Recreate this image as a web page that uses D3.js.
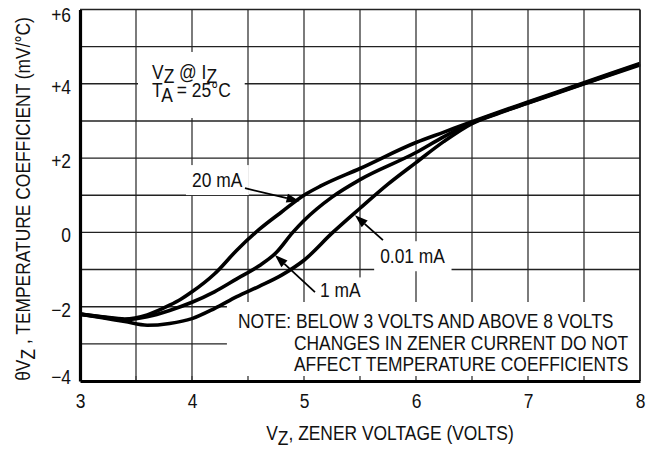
<!DOCTYPE html>
<html>
<head>
<meta charset="utf-8">
<script src="https://cdn.jsdelivr.net/npm/d3@7"></script>
<style>
  body { margin: 0; background: #fff; }
  svg text { font-family: "Liberation Sans", Arial, sans-serif; fill: #111; }
</style>
</head>
<body>
<div id="chart"></div>
<script>
// zener temperature coefficient vs zener voltage
var volts20 = [3.0, 3.2, 3.4, 3.6, 3.8, 3.9, 4.0, 4.2, 4.4, 4.6, 4.8, 5.0, 5.15, 5.5, 6.0, 6.25, 6.5, 6.75, 7.0, 7.5, 8.0];
var tc20    = [-2.2, -2.27, -2.33, -2.22, -1.96, -1.8, -1.6, -1.12, -0.48, 0.08, 0.55, 1.0, 1.25, 1.72, 2.42, 2.7, 2.98, 3.25, 3.51, 4.03, 4.55];

var volts1 = [3.0, 3.2, 3.4, 3.6, 3.8, 4.0, 4.2, 4.4, 4.6, 4.75, 4.9, 5.0, 5.25, 5.5, 6.0, 6.25, 6.5, 6.75, 7.0, 7.5, 8.0];
var tc1    = [-2.2, -2.28, -2.35, -2.27, -2.1, -1.88, -1.6, -1.25, -0.9, -0.55, 0.0, 0.32, 0.95, 1.42, 2.15, 2.58, 2.95, 3.23, 3.49, 4.01, 4.53];

var volts001 = [3.0, 3.2, 3.4, 3.6, 3.8, 4.0, 4.2, 4.4, 4.6, 4.8, 5.0, 5.25, 5.5, 5.75, 6.0, 6.25, 6.5, 6.75, 7.0, 7.5, 8.0];
var tc001    = [-2.2, -2.3, -2.4, -2.5, -2.45, -2.32, -2.05, -1.73, -1.45, -1.15, -0.75, -0.02, 0.65, 1.3, 1.88, 2.45, 2.93, 3.22, 3.48, 4.0, 4.51];

var xTicks = [3, 4, 5, 6, 7, 8];
var yTicks = [-4, -2, 0, 2, 4, 6];
var xGrid = [3.5, 4, 4.5, 5, 5.5, 6, 6.5, 7, 7.5];
var yGrid = [-3, -2, -1, 0, 1, 2, 3, 4, 5];

var noteLines = ["NOTE: BELOW 3 VOLTS AND ABOVE 8 VOLTS",
                 "CHANGES IN ZENER CURRENT DO NOT",
                 "AFFECT TEMPERATURE COEFFICIENTS"];

(function(){

var width = 656, height = 453;
var mLeft = 80, mRight = 640, mTop = 9.5, mBottom = 381;
var squeeze = 0.87;  // the original uses a condensed face
var fs = 20;

var svg = d3.select("#chart").append("svg")
    .attr("width", width)
    .attr("height", height);

var x = d3.scaleLinear().domain([3, 8]).range([mLeft, mRight]);
var y = d3.scaleLinear().domain([-4, 6]).range([mBottom, mTop]);

// squeeze a text horizontally to mimic the condensed font
function narrow(node){
    var w = node.getComputedTextLength();
    d3.select(node).attr("textLength", w * squeeze).attr("lengthAdjust", "spacingAndGlyphs");
}

// grid
var grid = svg.append("g");
grid.selectAll(".vg").data(xGrid).enter().append("line")
    .attr("x1", function(d){ return x(d); }).attr("x2", function(d){ return x(d); })
    .attr("y1", mTop).attr("y2", mBottom)
    .attr("stroke", "#444").attr("stroke-width", 1.4);
grid.selectAll(".hg").data(yGrid).enter().append("line")
    .attr("x1", mLeft).attr("x2", mRight)
    .attr("y1", function(d){ return y(d); }).attr("y2", function(d){ return y(d); })
    .attr("stroke", "#222").attr("stroke-width", 1.4);

var boxLayer = svg.append("g");
var tickLayer = svg.append("g");
var curveLayer = svg.append("g");
var textLayer = svg.append("g");

// curves
var line = d3.line()
    .x(function(d){ return x(d[0]); })
    .y(function(d){ return y(d[1]); })
    .curve(d3.curveMonotoneX);

[[volts20, tc20], [volts1, tc1], [volts001, tc001]].forEach(function(s){
    curveLayer.append("path")
        .datum(d3.zip(s[0], s[1]))
        .attr("d", line)
        .attr("fill", "none")
        .attr("stroke", "#000")
        .attr("stroke-width", 3.6)
        .attr("stroke-linejoin", "round");
});

// white box behind a text block
function backBox(node, padL, padR, padT, padB){
    var b = node.getBBox();
    boxLayer.append("rect")
        .attr("x", b.x - padL).attr("y", b.y - padT)
        .attr("width", b.width + padL + padR)
        .attr("height", b.height + padT + padB)
        .attr("fill", "#fff");
}

// conditions label
var cond = textLayer.append("g");
var t1 = cond.append("text").attr("x", x(3.643)).attr("y", y(4.13)).attr("font-size", fs);
t1.append("tspan").text("V");
t1.append("tspan").attr("dy", 4).text("Z");
t1.append("tspan").attr("dy", -4).text(" @ I");
t1.append("tspan").attr("dy", 4).text("Z");
var t2 = cond.append("text").attr("x", x(3.643)).attr("y", y(3.645)).attr("font-size", fs);
t2.append("tspan").text("T");
t2.append("tspan").attr("dy", 5).text("A");
t2.append("tspan").attr("dy", -5).text(" = 25°C");
narrow(t1.node()); narrow(t2.node());
backBox(cond.node(), 14, 14, 9, 12);

// curve labels
var lab20 = textLayer.append("text").attr("x", x(4.0)).attr("y", y(1.22))
    .attr("font-size", fs).text("20 mA");
narrow(lab20.node());
backBox(lab20.node(), 6, 6, 4, 4);
var lab1 = textLayer.append("text").attr("x", x(5.143)).attr("y", y(-1.75))
    .attr("font-size", fs).text("1 mA");
narrow(lab1.node());
backBox(lab1.node(), 8, 6, 2, 4);
var lab001 = textLayer.append("text").attr("x", x(5.68)).attr("y", y(-0.83))
    .attr("font-size", fs).text("0.01 mA");
narrow(lab001.node());
backBox(lab001.node(), 6, 6, 4, 4);

// note
var note = textLayer.append("g");
note.selectAll("text").data(noteLines).enter().append("text")
    .attr("x", function(d, i){ return i === 0 ? x(4.41) : x(4.91); })
    .attr("y", function(d, i){ return 328 + i * 21.5; })
    .attr("font-size", fs)
    .text(function(d){ return d; })
    .each(function(){ narrow(this); });
var nb = note.node().getBBox();
boxLayer.append("rect")
    .attr("x", nb.x - 11).attr("y", nb.y - 8)
    .attr("width", mRight - (nb.x - 11)).attr("height", mBottom - (nb.y - 8))
    .attr("fill", "#fff");

// small ticks on the bottom axis (show inside the note area)
tickLayer.selectAll("line").data(xGrid).enter().append("line")
    .attr("x1", function(d){ return x(d); }).attr("x2", function(d){ return x(d); })
    .attr("y1", mBottom - 5).attr("y2", mBottom)
    .attr("stroke", "#444").attr("stroke-width", 1.4);

// arrows
function arrow(v0, t0, v1, t1){
    var x0 = x(v0), y0 = y(t0), x1 = x(v1), y1 = y(t1);
    var a = Math.atan2(y1 - y0, x1 - x0), len = 13, w = 4.5;
    var bx = x1 - len * Math.cos(a), by = y1 - len * Math.sin(a);
    textLayer.append("line")
        .attr("x1", x0).attr("y1", y0).attr("x2", bx).attr("y2", by)
        .attr("stroke", "#000").attr("stroke-width", 1.8);
    textLayer.append("polygon")
        .attr("points", [[x1, y1],
            [bx + w * Math.sin(a), by - w * Math.cos(a)],
            [bx - w * Math.sin(a), by + w * Math.cos(a)]].map(function(p){ return p.join(","); }).join(" "))
        .attr("fill", "#000");
}
arrow(4.473, 1.19, 4.96, 0.84);
arrow(5.098, -1.61, 4.74, -0.61);
arrow(5.705, -0.21, 5.455, 0.46);

// frame
svg.append("line").attr("x1", mLeft).attr("x2", mRight).attr("y1", mTop).attr("y2", mTop)
    .attr("stroke", "#222").attr("stroke-width", 1.6);
svg.append("line").attr("x1", mRight).attr("x2", mRight).attr("y1", mTop).attr("y2", mBottom)
    .attr("stroke", "#222").attr("stroke-width", 1.8);

// axes
var xAxis = svg.append("g")
    .attr("transform", "translate(0," + mBottom + ")")
    .call(d3.axisBottom(x).tickValues(xTicks).tickSize(0).tickPadding(13).tickFormat(d3.format("d")));
var yAxis = svg.append("g")
    .attr("transform", "translate(" + mLeft + ",0)")
    .call(d3.axisLeft(y).tickValues(yTicks).tickSize(0).tickPadding(9)
        .tickFormat(function(d){ return d > 0 ? "+" + d : (d < 0 ? "\u2212" + Math.abs(d) : "0"); }));
[xAxis, yAxis].forEach(function(g){
    g.attr("font-family", null);
    g.select(".domain").attr("stroke", "#000").attr("stroke-width", 3.2);
    g.selectAll("text").attr("font-size", fs).attr("fill", "#111").each(function(){ narrow(this); });
});
// labels at the ends sit inside the frame, the others a little below their line
yAxis.selectAll(".tick text")
    .attr("y", function(d){ return d === 6 ? 6 : (d === -4 ? -4 : 3); });

// axis titles
var xt = svg.append("text").attr("x", 390).attr("y", 440)
    .attr("text-anchor", "middle").attr("font-size", fs);
xt.append("tspan").text("V");
xt.append("tspan").attr("dy", 5).text("Z");
xt.append("tspan").attr("dy", -5).text(", ZENER VOLTAGE (VOLTS)");
narrow(xt.node());

var yt = svg.append("text")
    .attr("transform", "translate(30,199) rotate(-90)")
    .attr("text-anchor", "middle").attr("font-size", fs);
yt.append("tspan").text("\u03b8V");
yt.append("tspan").attr("dy", 5).text("Z");
yt.append("tspan").attr("dy", -5).text(" , TEMPERATURE COEFFICIENT (mV/°C)");
narrow(yt.node());

})();
</script>
</body>
</html>
